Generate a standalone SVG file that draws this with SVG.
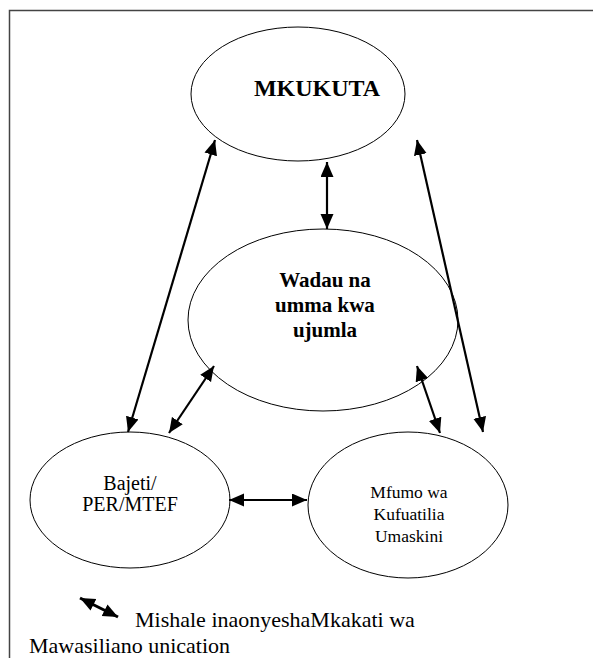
<svg xmlns="http://www.w3.org/2000/svg" width="593" height="658" viewBox="0 0 593 658">
<style>
.node{fill:#fff;stroke:#000;stroke-width:1}
text{font-family:'Liberation Serif','Times New Roman','DejaVu Serif',serif;fill:#000}
.arr{stroke:#000;stroke-width:2.2;fill:none;marker-start:url(#ah);marker-end:url(#ah)}
</style>
<defs>
<marker id="ah" markerUnits="userSpaceOnUse" markerWidth="16" markerHeight="14" refX="15" refY="6.5" orient="auto-start-reverse" viewBox="0 0 16 14">
<path d="M0,0 L15,6.5 L0,13 z" fill="#000"/>
</marker>
</defs>
<rect width="593" height="658" fill="#fff"/>
<path d="M9.5,658 L9.5,10.5 L593,10.5" fill="none" stroke="#444" stroke-width="1.5"/>
<g id="mkukuta">
<ellipse class="node" cx="298" cy="94" rx="107" ry="67"/>
<text x="317" y="96" font-size="24" font-weight="bold" text-anchor="middle" font-family="Liberation Serif, serif">MKUKUTA</text>
</g>
<g id="wadau">
<ellipse class="node" cx="323" cy="320" rx="135" ry="91"/>
<text font-size="21" font-weight="bold" text-anchor="middle" font-family="Liberation Serif, serif"><tspan x="325" y="287">Wadau na</tspan><tspan x="325" y="312">umma kwa</tspan><tspan x="325" y="337">ujumla</tspan></text>
</g>
<g id="bajeti">
<ellipse class="node" cx="130" cy="500" rx="100" ry="68"/>
<text font-size="20" text-anchor="middle" font-family="Liberation Serif, serif"><tspan x="130" y="490">Bajeti/</tspan><tspan x="130" y="511">PER/MTEF</tspan></text>
</g>
<g id="mfumo">
<ellipse class="node" cx="408" cy="505" rx="100" ry="73"/>
<text font-size="17.5" text-anchor="middle" font-family="Liberation Serif, serif"><tspan x="409" y="498">Mfumo wa</tspan><tspan x="409" y="520">Kufuatilia</tspan><tspan x="409" y="542">Umaskini</tspan></text>
</g>
<g id="connectors">
<line class="arr" x1="128" y1="432" x2="215" y2="140"/>
<line class="arr" x1="327" y1="162" x2="327" y2="229"/>
<line class="arr" x1="483" y1="432" x2="417" y2="140"/>
<line class="arr" x1="169" y1="433" x2="214" y2="366"/>
<line class="arr" x1="440" y1="433" x2="417" y2="366"/>
<line class="arr" x1="229" y1="500" x2="307" y2="500"/>
</g>
<g id="legend">
<line class="arr" style="stroke-width:3" x1="80" y1="598" x2="118" y2="617"/>
<text font-size="22" x="135" y="627" font-family="Liberation Serif, serif">Mishale inaonyeshaMkakati wa</text>
<text font-size="22" x="29" y="653" font-family="Liberation Serif, serif">Mawasiliano unication</text>
</g>
</svg>
